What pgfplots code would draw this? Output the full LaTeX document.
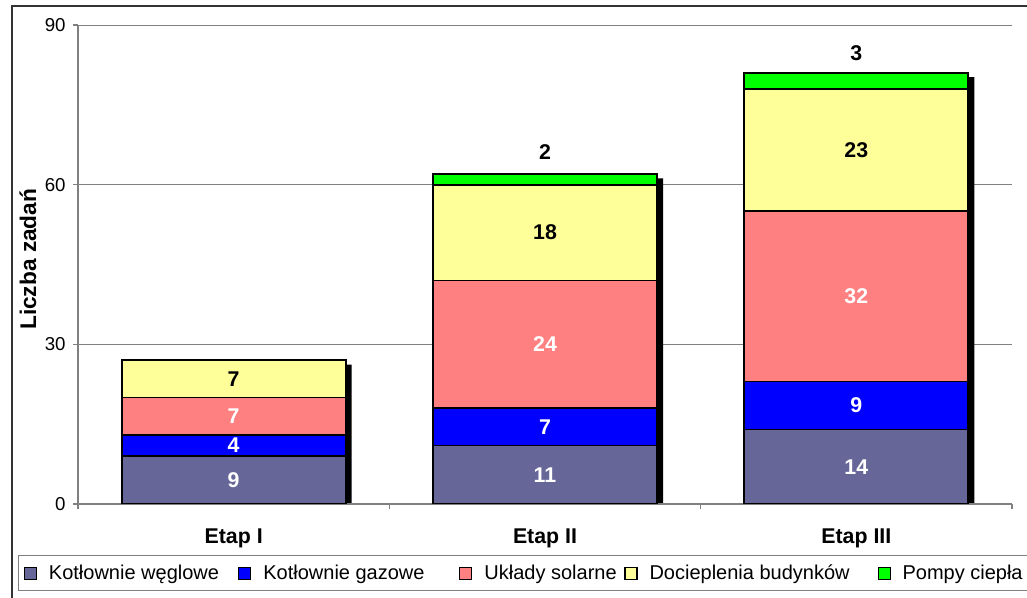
\documentclass[border=0pt]{standalone}
\usepackage{fontspec}
\setmainfont{Liberation Sans}
\usepackage{pgfplots}
\pgfplotsset{compat=1.18}
\definecolor{cA}{RGB}{102,102,153}
\definecolor{cB}{RGB}{0,0,255}
\definecolor{cC}{RGB}{255,128,128}
\definecolor{cD}{RGB}{255,255,153}
\definecolor{cE}{RGB}{0,255,0}
\definecolor{gridgray}{RGB}{128,128,128}
\pgfplotsset{
  myaxis/.style={scale only axis, width=700.5pt, height=359.25pt,
    at={(58.5pt,70.5pt)}, anchor=south west, xmin=-0.5, xmax=2.5, ymin=0, ymax=90},
  seg/.style={draw=black, line width=1.3pt},
  centerlab/.style={nodes near coords, point meta=explicit,
    every node near coord/.append style={anchor=center, font=\bfseries\fontsize{16}{19}\selectfont, text=#1}},
}
\begin{document}
\begin{tikzpicture}
\clip (0pt,0pt) rectangle (770.25pt,448.5pt);
\draw[line width=1.2pt, black!80] (9pt,444pt) rectangle (800pt,-40pt);
% grid and shadow
\begin{axis}[myaxis, axis line style={draw=none}, xtick=\empty, ytick={30,60,90},
  yticklabels={}, major tick length=0pt, ymajorgrids,
  grid style={gridgray, line width=0.7pt}, ybar, bar width=168pt]
\addplot[fill=black, draw=none, bar shift=4.5pt] coordinates {(0,26.2) (1,61.2) (2,80.2)};
\end{axis}
% bars
\begin{axis}[myaxis, ybar stacked, bar width=168pt,
  axis lines*=left, axis line style={gridgray, line width=0.8pt},
  tick align=outside, major tick length=3.75pt, tick style={gridgray, line width=0.8pt},
  ytick={0,30,60,90},
  yticklabel style={font=\fontsize{14}{16}\selectfont, xshift=-2pt},
  /pgf/number format/assume math mode=true,
  xtick={-0.5,0.5,1.5,2.5}, xticklabels={},
  extra x ticks={0,1,2}, extra x tick labels={Etap I, Etap II, Etap III},
  extra x tick style={major tick length=0pt,
    tick label style={font=\bfseries\fontsize{16}{18}\selectfont, yshift=-15pt}},
  ylabel={Liczba zadań},
  ylabel style={font=\bfseries\fontsize{17}{20}\selectfont, at={(axis description cs:-0.0535,0.511)}, anchor=center},
  legend columns=5,
  legend style={at={(axis description cs:-0.0642,-0.1065)}, anchor=north west,
    draw=gridgray, line width=0.8pt, font=\fontsize{15}{18}\selectfont,
    inner xsep=4pt, inner ysep=5pt, /tikz/column sep=7pt, cells={anchor=west}},
  legend image code/.code={\draw[#1,draw=black,line width=0.8pt] (0pt,-4.5pt) rectangle (9pt,4.5pt);},
]
\addplot[seg, fill=cA, centerlab=white] table[x=x, y=y, meta=y, row sep=\\] {x y\\ 0 9\\ 1 11\\ 2 14\\};
\addlegendentry{\makebox[133pt][l]{Kotłownie węglowe}}
\addplot[seg, fill=cB, centerlab=white] table[x=x, y=y, meta=y, row sep=\\] {x y\\ 0 4\\ 1 7\\ 2 9\\};
\addlegendentry{\makebox[138pt][l]{Kotłownie gazowe}}
\addplot[seg, fill=cC, centerlab=white] table[x=x, y=y, meta=y, row sep=\\] {x y\\ 0 7\\ 1 24\\ 2 32\\};
\addlegendentry{\makebox[96pt][l]{Układy solarne}}
\addplot[seg, fill=cD, centerlab=black] table[x=x, y=y, meta=y, row sep=\\] {x y\\ 0 7\\ 1 18\\ 2 23\\};
\addlegendentry{\makebox[162pt][l]{Docieplenia budynków}}
\addplot[seg, fill=cE, nodes near coords, point meta=explicit,
  every node near coord/.append style={anchor=south, yshift=11pt, text=black, font=\bfseries\fontsize{16}{19}\selectfont}]
  coordinates {(0,0) [] (1,2) [2] (2,3) [3]};
\addlegendentry{Pompy ciepła}
\end{axis}
\end{tikzpicture}
\end{document}
